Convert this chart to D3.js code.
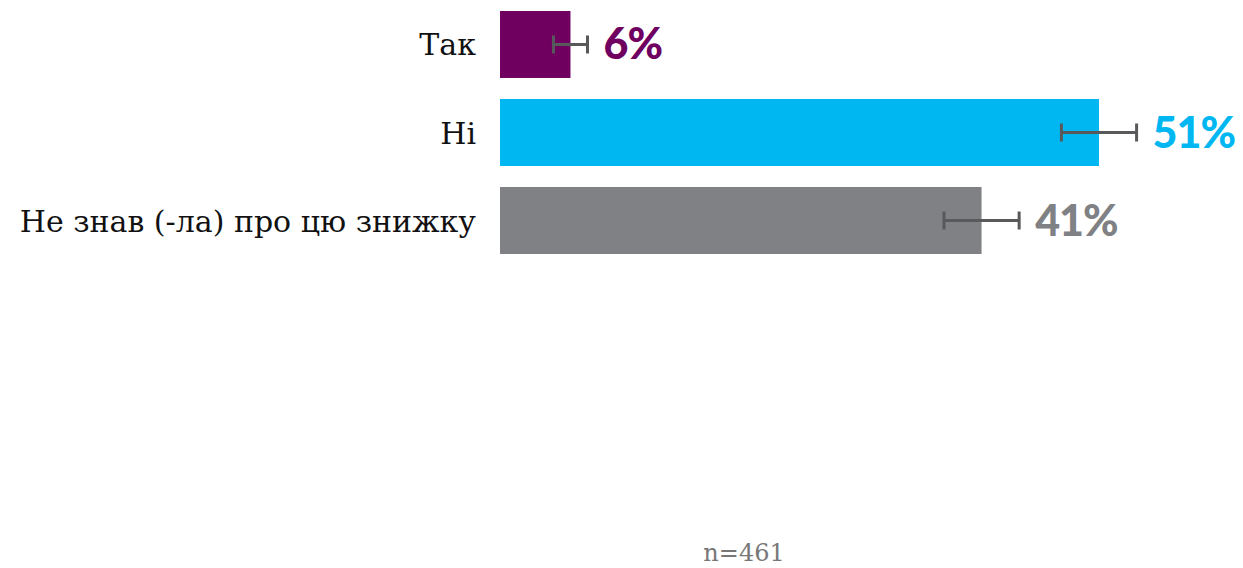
<!DOCTYPE html>
<html>
<head>
<meta charset="utf-8">
<script src="https://cdn.jsdelivr.net/npm/d3@7"></script>
<style>
  body { margin: 0; background: #fff; }
</style>
</head>
<body>
<script>
var WIDTH = 1243;
var HEIGHT = 568;

// data
var categories = ["Так", "Ні", "Не знав (-ла) про цю знижку"];
var values = [6, 51, 41];
var errors = [1.45, 3.2, 3.2];
var colors = ["#6f0060", "#00b7f1", "#808184"];
var sampleNote = "n=461";

var svg = d3.select("body")
  .append("svg")
  .attr("width", WIDTH)
  .attr("height", HEIGHT);

var x = d3.scaleLinear()
  .domain([0, 51])
  .range([500, 1099]);

var y = d3.scaleBand()
  .domain(categories)
  .range([11, 254])
  .paddingInner(0.239)
  .paddingOuter(0);

var rows = svg.selectAll("g.row")
  .data(categories)
  .enter()
  .append("g")
  .attr("class", "row");

rows.append("rect")
  .attr("x", x(0))
  .attr("y", function (d) { return y(d); })
  .attr("width", function (d, i) { return x(values[i]) - x(0); })
  .attr("height", y.bandwidth())
  .style("fill", function (d, i) { return colors[i]; });

// error bars
rows.each(function (d, i) {
  var g = d3.select(this);
  var cy = y(d) + y.bandwidth() / 2;
  var x0 = x(values[i] - errors[i]), x1 = x(values[i] + errors[i]);
  g.append("line")
    .attr("x1", x0).attr("x2", x1)
    .attr("y1", cy).attr("y2", cy)
    .attr("stroke", "#58595b").attr("stroke-width", 3);
  [x0, x1].forEach(function (xx) {
    g.append("line")
      .attr("x1", xx).attr("x2", xx)
      .attr("y1", cy - 9).attr("y2", cy + 9)
      .attr("stroke", "#58595b").attr("stroke-width", 3);
  });
});

// value labels
rows.append("text")
  .attr("x", function (d, i) { return x(values[i] + errors[i]) + 16; })
  .attr("y", function (d) { return y(d) + y.bandwidth() / 2 + 15; })
  .style("font-family", "Lato, sans-serif")
  .style("font-weight", 900)
  .style("font-size", "43px")
  .style("letter-spacing", "-1px")
  .style("fill", function (d, i) { return colors[i]; })
  .text(function (d, i) { return values[i] + "%"; });

// category labels
rows.append("text")
  .attr("x", 476)
  .attr("y", function (d) { return y(d) + y.bandwidth() / 2 + 11; })
  .attr("text-anchor", "end")
  .style("font-family", "'DejaVu Serif', serif")
  .style("font-size", "30px")
  .style("fill", "#111")
  .text(function (d) { return d; });

svg.append("text")
  .attr("x", 744)
  .attr("y", 561)
  .attr("text-anchor", "middle")
  .style("font-family", "'DejaVu Serif', serif")
  .style("font-size", "24px")
  .style("fill", "#777")
  .text(sampleNote);
</script>
</body>
</html>
